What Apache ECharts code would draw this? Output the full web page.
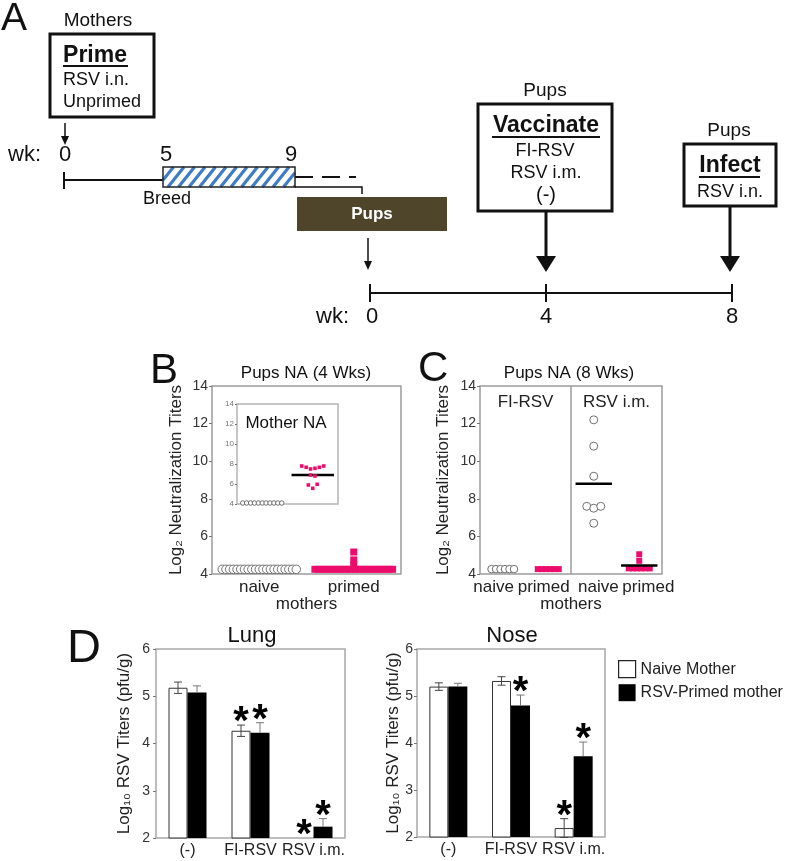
<!DOCTYPE html>
<html><head><meta charset="utf-8">
<script src="https://cdn.jsdelivr.net/npm/echarts@6/dist/echarts.min.js"></script>
<style>html,body{margin:0;padding:0;background:#fff}#c{width:800px;height:861px}</style>
</head><body><div id="c"></div>
<script>
// ---------------- data ----------------
const motherWeeks = ['0', '5', '9'];
const pupWeeks = ['0', '4', '8'];
const mothersGroups = ['naive', 'primed'];
const vaccineGroups = ['FI-RSV', 'RSV i.m.'];

const motherNaNaive = [4.1, 4.1, 4.1, 4.1, 4.1, 4.1, 4.1, 4.1, 4.1, 4.1, 4.1];
const motherNaPrimed = [7.8, 7.67, 7.5, 7.57, 7.67, 7.8, 6.9, 6.8, 5.9, 5.57, 5.97];
const motherNaPrimedMean = 6.9;

const pups4Naive = [4.25, 4.25, 4.25, 4.25, 4.25, 4.25, 4.25, 4.25, 4.25, 4.25, 4.25,
                    4.25, 4.25, 4.25, 4.25, 4.25, 4.25, 4.25, 4.25, 4.25, 4.25];
const pups4Primed = [4.25, 4.25, 4.25, 4.25, 4.25, 4.25, 4.25, 4.25, 4.25, 4.25, 4.25,
                     4.25, 4.25, 4.25, 4.25, 4.25, 4.25, 4.25, 4.25, 4.25, 4.25, 4.25,
                     4.48, 4.75, 5.17];

const pups8FiNaive = [4.26, 4.26, 4.26, 4.26, 4.26, 4.26];
const pups8FiPrimed = [4.26, 4.26, 4.26, 4.26, 4.26, 4.26];
const pups8ImNaive = [12.2, 10.8, 9.2, 7.6, 7.5, 7.6, 6.7];
const pups8ImNaiveMean = 8.8;
const pups8ImPrimed = [4.3, 4.3, 4.3, 4.3, 4.3, 4.3, 4.7, 5.05];
const pups8ImPrimedMean = 4.45;

const tissueCats = ['(-)', 'FI-RSV', 'RSV i.m.'];
const legendNames = ['Naive Mother', 'RSV-Primed mother'];
const lungNaive = [5.18, 4.27, 2.0];
const lungNaiveErr = [0.12, 0.12, 0];
const lungPrimed = [5.08, 4.23, 2.24];
const lungPrimedErr = [0.14, 0.21, 0.17];
const noseNaive = [5.2, 5.32, 2.19];
const noseNaiveErr = [0.08, 0.09, 0.2];
const nosePrimed = [5.2, 4.8, 3.72];
const nosePrimedErr = [0.07, 0.22, 0.3];
const lungSigNaive = [0, 1, 1];
const lungSigPrimed = [0, 1, 1];
const noseSigNaive = [0, 0, 1];
const noseSigPrimed = [0, 1, 1];

// ---------------- style / layout ----------------
const FF = "'Liberation Sans', Arial, Helvetica, sans-serif";
const PINK = '#ec0c6c';
const K = '#111';
const CIRC = '#707070';
const NA_TITLE = 'Log\u2082 Neutralization Titers';
const TIS_TITLE = 'Log\u2081\u2080 RSV Titers (pfu/g)';
// label anchor positions (tenths of a column unit) for panel C bottom labels
const C_LABEL_AT = [3, 14, 26, 37];

function swarm(values, center, step, thresh) {
  const order = values.map((v, i) => i).sort((a, b) => (values[a] - values[b]) || (a - b));
  const out = new Array(values.length);
  let cl = [];
  const flush = () => {
    cl.sort((a, b) => a - b);
    cl.forEach((k, j) => { out[k] = [center + (j - (cl.length - 1) / 2) * step, values[k]]; });
    cl = [];
  };
  order.forEach((k, t) => {
    if (t > 0 && values[k] - values[order[t - 1]] > thresh) flush();
    cl.push(k);
  });
  flush();
  return out;
}

// ---------------- schematic (panel A) ----------------
const G = [];
function T(x, y, text, size, o) {
  o = o || {};
  const al = o.align || 'center';
  G.push({ type: 'text', x: x, y: y, z: 50,
    style: { text: text, font: (o.bold ? 'bold ' : '') + size + 'px ' + FF, fill: o.fill || K,
      align: al, verticalAlign: 'middle', textAlign: al, textVerticalAlign: 'middle' } });
}
function L(x1, y1, x2, y2, w, o) {
  o = o || {};
  G.push({ type: 'line', z: 50, shape: { x1: x1, y1: y1, x2: x2, y2: y2 },
    style: { stroke: o.stroke || K, lineWidth: w, lineDash: o.dash || null } });
}
function R(x, y, w, h, o) {
  G.push({ type: 'rect', z: o.z || 40, shape: { x: x, y: y, width: w, height: h },
    style: { fill: o.fill || null, stroke: o.stroke || null, lineWidth: o.lw || 0 } });
}
function P(points, fill) {
  G.push({ type: 'polygon', z: 50, shape: { points: points }, style: { fill: fill || K } });
}
function arrow(x, y1, y2, w, hw, hh) {
  L(x, y1, x, y2 - hh + 2, w);
  P([[x - hw, y2 - hh], [x + hw, y2 - hh], [x, y2]]);
}

T(1, 19, 'A', 39, { align: 'left' });
T(98, 21, 'Mothers', 19);
R(50, 34, 104, 83, { stroke: K, lw: 3, fill: '#fff' });
T(95, 56, 'Prime', 23, { bold: 1 });
L(63, 66, 128, 66, 2);
T(63, 80, 'RSV i.n.', 18, { align: 'left' });
T(63, 102, 'Unprimed', 18, { align: 'left' });
arrow(65, 123, 145, 1.5, 4, 9);
T(8, 155, 'wk:', 22, { align: 'left' });
[65, 166, 291].forEach((x, i) => T(x, 155, motherWeeks[i], 22));
L(64, 172, 64, 189, 2);
L(64, 180, 163, 180, 2);
(function () {
  const x0 = 163, x1 = 295, y0 = 167, y1 = 187, dx = 16;
  for (let x = x0 - dx; x < x1; x += 10.5) {
    const t0 = Math.max(0, (x0 - x) / dx), t1 = Math.min(1, (x1 - x) / dx);
    if (t1 <= t0) continue;
    L(x + dx * t0, y1 - (y1 - y0) * t0, x + dx * t1, y1 - (y1 - y0) * t1, 3.2, { stroke: '#3e7cc3' });
  }
  R(x0, y0, x1 - x0, y1 - y0, { stroke: '#222', lw: 1.5, z: 51 });
})();
L(295, 177, 356, 177, 2, { dash: [18, 9] });
G.push({ type: 'polyline', z: 50, shape: { points: [[295, 187], [362, 187], [362, 194]] },
  style: { stroke: K, lineWidth: 1.5, fill: null } });
T(167, 199, 'Breed', 18);
R(297, 197, 150, 34, { fill: '#4e452b' });
T(372, 214, 'Pups', 17, { bold: 1, fill: '#fff' });
arrow(368, 238, 270, 1.5, 4, 9);
L(370, 293, 732, 293, 2);
[370, 546, 732].forEach(x => L(x, 284, x, 302, 2));
T(316, 317, 'wk:', 22, { align: 'left' });
[372, 546, 732].forEach((x, i) => T(x, 317, pupWeeks[i], 22));
T(545, 91, 'Pups', 19);
R(478, 104, 134, 107, { stroke: K, lw: 3, fill: '#fff' });
T(546, 126, 'Vaccinate', 23, { bold: 1 });
L(492, 137, 600, 137, 2);
T(545, 151, 'FI-RSV', 18);
T(546, 173, 'RSV i.m.', 18);
T(546, 195, '(-)', 20);
arrow(546, 211, 272, 3, 10, 16);
T(729, 131, 'Pups', 19);
R(684, 144, 92, 62, { stroke: K, lw: 3, fill: '#fff' });
T(730, 166, 'Infect', 23, { bold: 1 });
L(699, 177, 760, 177, 2);
T(730, 192, 'RSV i.n.', 18);
arrow(730, 206, 272, 3, 10, 16);

// panel letters and titles
T(150, 371, 'B', 42, { align: 'left' });
T(418, 369, 'C', 42, { align: 'left' });
T(67, 649, 'D', 47, { align: 'left' });
T(306, 373, 'Pups NA (4 Wks)', 17);
T(569, 373, 'Pups NA (8 Wks)', 17);
T(286, 423, 'Mother NA', 17);
T(252, 636, 'Lung', 22);
T(512, 636, 'Nose', 22);

// ---------------- axes ----------------
function naY(grid, gap, lblSize, lblColor, name) {
  return {
    type: 'value', gridIndex: grid, min: 4, max: 14, interval: 2,
    axisLine: { show: false }, splitLine: { show: false },
    axisTick: { show: true, length: 3, lineStyle: { color: '#777' } },
    axisLabel: { fontSize: lblSize, color: lblColor, margin: 4, fontFamily: FF },
    name: name || '', nameLocation: 'middle', nameGap: gap, nameRotate: 90, nameMoveOverlap: false,
    nameTextStyle: { fontSize: 17, color: '#222', fontFamily: FF }
  };
}
function mothersX(grid, max, interval, labelFn) {
  return {
    type: 'value', gridIndex: grid, min: 0, max: max, interval: interval,
    axisLine: { show: false }, axisTick: { show: false }, splitLine: { show: false },
    axisLabel: { show: !!labelFn, fontSize: 17, color: '#222', margin: 5, fontFamily: FF,
      showMinLabel: true, showMaxLabel: true, formatter: labelFn || (() => '') },
    name: labelFn ? 'mothers' : '', nameLocation: 'middle', nameGap: 22, nameMoveOverlap: false,
    nameTextStyle: { fontSize: 17, color: '#222', fontFamily: FF }
  };
}
function tisY(grid, gap, margin) {
  return {
    type: 'value', gridIndex: grid, min: 2, max: 6, interval: 1,
    axisLine: { show: false }, splitLine: { show: false },
    axisTick: { show: true, length: 3, lineStyle: { color: '#777' } },
    axisLabel: { fontSize: 14, color: '#333', margin: margin, fontFamily: FF },
    name: TIS_TITLE, nameLocation: 'middle', nameGap: gap,
    nameRotate: 90, nameMoveOverlap: false, nameTextStyle: { fontSize: 17, color: '#222', fontFamily: FF }
  };
}
function tisX(grid) {
  return {
    type: 'category', gridIndex: grid, data: tissueCats,
    axisLine: { show: false }, axisTick: { show: false },
    axisLabel: { fontSize: 16, color: '#222', margin: 5, fontFamily: FF, interval: 0 }
  };
}

const gridBase = { show: true, borderColor: '#9c9c9c', borderWidth: 1.5, outerBoundsMode: 'none', containLabel: false };
const grids = [
  Object.assign({}, gridBase, { left: 212, top: 386, width: 189, height: 188 }),
  Object.assign({}, gridBase, { left: 237, top: 404, width: 101, height: 100, borderColor: '#b4b4b4', backgroundColor: '#fff' }),
  Object.assign({}, gridBase, { left: 480, top: 386, width: 182, height: 188 }),
  Object.assign({}, gridBase, { left: 156, top: 649, width: 189, height: 189, borderColor: '#a8a8a8' }),
  Object.assign({}, gridBase, { left: 417, top: 649, width: 188, height: 188, borderColor: '#a8a8a8' })
];

const xAxes = [
  mothersX(0, 2, 0.5, v => Math.abs(v % 1 - 0.5) < 1e-6 ? mothersGroups[Math.floor(v)] : ''),
  mothersX(1, 2, 0.5, null),
  mothersX(2, 4, 0.1, v => { const i = C_LABEL_AT.indexOf(Math.round(v * 10)); return i >= 0 ? mothersGroups[i % 2] : ''; }),
  {
    type: 'value', gridIndex: 2, position: 'top', min: 0, max: 4, interval: 1,
    axisLine: { show: false }, axisTick: { show: false }, splitLine: { show: false },
    axisLabel: { inside: true, fontSize: 17, color: '#222', margin: 8, fontFamily: FF,
      formatter: v => v === 1 ? vaccineGroups[0] : (v === 3 ? vaccineGroups[1] : '') }
  },
  tisX(3),
  tisX(4)
];
const inY = naY(1, 0, 8, '#777');
inY.axisLabel.margin = 3;
inY.axisTick.length = 2;
const yAxes = [
  naY(0, 27, 14, '#333', NA_TITLE),
  inY,
  naY(2, 28, 14, '#333', NA_TITLE),
  tisY(3, 23, 6),
  tisY(4, 15, 4)
];

// ---------------- series ----------------
const PX_B = 189 / 2, PX_I = 101 / 2, PX_C = 182 / 4;
function scatter(xi, yi, data, symbol, size, fill, stroke, z) {
  return {
    type: 'scatter', xAxisIndex: xi, yAxisIndex: yi, data: data, symbol: symbol, symbolSize: size,
    silent: true, z: z || 3,
    itemStyle: stroke ? { color: fill, borderColor: stroke, borderWidth: 1, opacity: 1 } : { color: fill, opacity: 1 }
  };
}
function meanLine(xi, yi, center, half, mean, z) {
  return {
    type: 'line', xAxisIndex: xi, yAxisIndex: yi, data: [[center - half, mean], [center + half, mean]],
    showSymbol: false, symbol: 'none', silent: true, z: z,
    lineStyle: { color: '#000', width: 2.5 }
  };
}
function errRender(off, color, both) {
  return function (params, api) {
    const i = api.value(0), v = api.value(1), e = api.value(2), s = api.value(3);
    const p = api.coord([i, v]);
    const x = p[0] + off;
    const yTop = api.coord([i, v + e])[1];
    const yBot = both ? api.coord([i, v - e])[1] : p[1];
    const ch = [];
    if (e > 0) {
      ch.push({ type: 'line', shape: { x1: x, y1: yBot, x2: x, y2: yTop }, style: { stroke: color, lineWidth: 1 } });
      ch.push({ type: 'line', shape: { x1: x - 4, y1: yTop, x2: x + 4, y2: yTop }, style: { stroke: color, lineWidth: 1 } });
      if (both) ch.push({ type: 'line', shape: { x1: x - 4, y1: yBot, x2: x + 4, y2: yBot }, style: { stroke: color, lineWidth: 1 } });
    }
    if (s) {
      ch.push({ type: 'text', x: x, y: yTop - 2,
        style: { text: '*', font: 'bold 40px ' + FF, fill: '#000', align: 'center', verticalAlign: 'middle',
          textAlign: 'center', textVerticalAlign: 'middle' } });
    }
    return { type: 'group', children: ch };
  };
}
function tissueSeries(xi, yi, naive, naiveErr, naiveSig, primed, primedErr, primedSig) {
  return [
    { type: 'bar', name: legendNames[0], xAxisIndex: xi, yAxisIndex: yi, data: naive, barWidth: 19, barGap: '0%',
      silent: true, itemStyle: { color: '#fff', borderColor: '#333', borderWidth: 1 } },
    { type: 'bar', name: legendNames[1], xAxisIndex: xi, yAxisIndex: yi, data: primed, barWidth: 19, barGap: '0%',
      silent: true, itemStyle: { color: '#000' } },
    { type: 'custom', xAxisIndex: xi, yAxisIndex: yi, z: 5, silent: true, encode: { x: 0, y: 1 },
      data: naive.map((v, i) => [i, v, naiveErr[i], naiveSig[i]]), renderItem: errRender(-9.5, '#444', true) },
    { type: 'custom', xAxisIndex: xi, yAxisIndex: yi, z: 5, silent: true, encode: { x: 0, y: 1 },
      data: primed.map((v, i) => [i, v, primedErr[i], primedSig[i]]), renderItem: errRender(9.5, '#777', false) }
  ];
}

const series = [
  scatter(0, 0, swarm(pups4Naive, 0.5, 3.7 / PX_B, 0.2), 'circle', 8.5, '#fff', CIRC),
  scatter(0, 0, swarm(pups4Primed, 1.5, 3.7 / PX_B, 0.2), 'rect', 7, PINK),
  meanLine(1, 1, 1.5, 0.42, motherNaPrimedMean, 3),
  scatter(1, 1, swarm(motherNaNaive, 0.5, 3.9 / PX_I, 0.35), 'circle', 4.5, '#fff', CIRC, 4),
  scatter(1, 1, swarm(motherNaPrimed, 1.5, 4.4 / PX_I, 0.35), 'rect', 3.6, PINK, null, 4),
  Object.assign(scatter(2, 2, swarm(pups8FiNaive, 0.5, 4.5 / PX_C, 0.2), 'circle', 7.5, '#fff', CIRC), {
    markLine: { silent: true, symbol: ['none', 'none'], label: { show: false }, animation: false,
      lineStyle: { color: '#9c9c9c', width: 1.5, type: 'solid' }, data: [{ xAxis: 2 }] }
  }),
  scatter(2, 2, swarm(pups8FiPrimed, 1.5, 4.2 / PX_C, 0.2), 'rect', 6, PINK),
  scatter(2, 2, swarm(pups8ImNaive, 2.5, 7 / PX_C, 0.2), 'circle', 8, '#fff', CIRC),
  scatter(2, 2, swarm(pups8ImPrimed, 3.5, 4.2 / PX_C, 0.2), 'rect', 6, PINK),
  meanLine(2, 2, 2.5, 0.4, pups8ImNaiveMean, 6),
  meanLine(2, 2, 3.5, 0.4, pups8ImPrimedMean, 6)
].concat(
  tissueSeries(4, 3, lungNaive, lungNaiveErr, lungSigNaive, lungPrimed, lungPrimedErr, lungSigPrimed),
  tissueSeries(5, 4, noseNaive, noseNaiveErr, noseSigNaive, nosePrimed, nosePrimedErr, noseSigPrimed)
);

const chart = echarts.init(document.getElementById('c'), null, { renderer: 'canvas' });
chart.setOption({
  animation: false,
  backgroundColor: '#fff',
  textStyle: { fontFamily: FF },
  grid: grids,
  xAxis: xAxes,
  yAxis: yAxes,
  legend: {
    orient: 'vertical', left: 618, top: 660, itemWidth: 17, itemHeight: 17, itemGap: 6, icon: 'rect',
    selectedMode: false, padding: 0,
    textStyle: { fontSize: 16, color: '#222', fontFamily: FF },
    data: [
      { name: legendNames[0], itemStyle: { color: '#fff', borderColor: '#222', borderWidth: 1.2 } },
      { name: legendNames[1], itemStyle: { color: '#000' } }
    ]
  },
  series: series,
  graphic: { elements: G }
});
</script></body></html>
